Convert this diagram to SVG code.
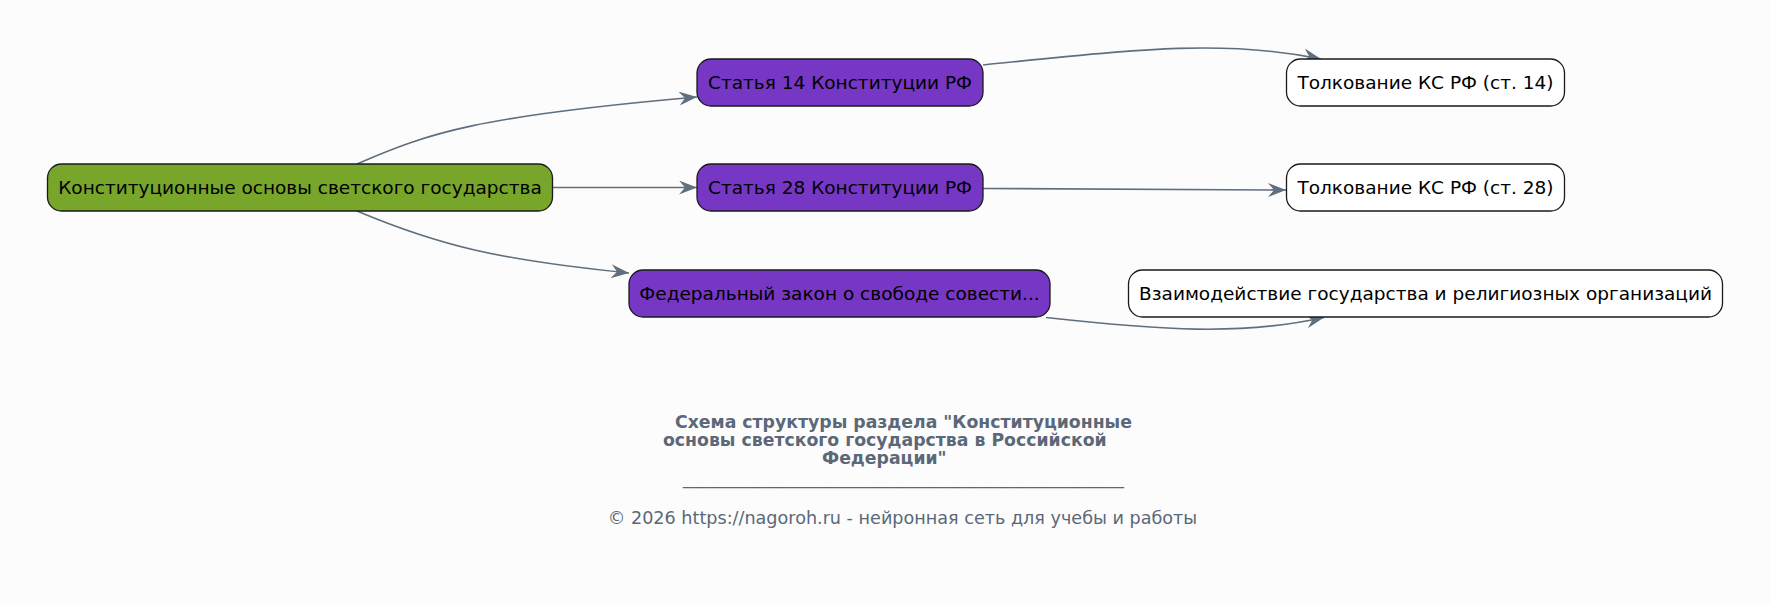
<svg xmlns="http://www.w3.org/2000/svg" width="1771" height="603" viewBox="0 0 1771 603">
<defs>
<style>
.node rect{stroke:#1a1a1a;stroke-width:1.3}
.root rect{fill:#77a62a}
.law rect{fill:#7637c4}
.leaf rect{fill:#ffffff}
.node text{font-family:"DejaVu Sans",sans-serif;font-size:18.5px;fill:#000;text-anchor:middle}
.edge{fill:none;stroke:#5f6f7e;stroke-width:1.6}
.title{font-family:"DejaVu Sans",sans-serif;font-size:17.3px;font-weight:bold;fill:#5a6878}
.foot{font-family:"DejaVu Sans",sans-serif;font-size:17.6px;fill:#5a6878}
</style>
<marker id="vee" markerWidth="20" markerHeight="14" refX="18" refY="7" orient="auto" markerUnits="userSpaceOnUse">
<path d="M0,0 L18,7 L0,14 L6,7 Z" fill="#5f6f7e"/>
</marker>
</defs>
<rect width="1771" height="603" fill="#fcfcfc"/>
<g id="connectors">
<path class="edge" d="M357,164 C430,132 480,116 697,97" marker-end="url(#vee)"/>
<path class="edge" d="M552,187.5 L697,187.5" marker-end="url(#vee)"/>
<path class="edge" d="M357,211 C440,246 500,260 629,273" marker-end="url(#vee)"/>
<path class="edge" d="M983,65 C1120,51 1220,38 1321,59" marker-end="url(#vee)"/>
<path class="edge" d="M983,188.5 C1100,190 1200,190 1286,190" marker-end="url(#vee)"/>
<path class="edge" d="M1046,317.5 C1160,330 1240,336 1324,317.5" marker-end="url(#vee)"/>
</g>
<g id="n-root" class="node root">
<rect x="47.5" y="164" width="505" height="47" rx="14"/>
<text x="300" y="194">Конституционные основы светского государства</text>
</g>
<g id="n-st14" class="node law">
<rect x="697" y="59" width="286" height="47" rx="14"/>
<text x="840" y="89">Статья 14 Конституции РФ</text>
</g>
<g id="n-st28" class="node law">
<rect x="697" y="164" width="286" height="47" rx="14"/>
<text x="840" y="194">Статья 28 Конституции РФ</text>
</g>
<g id="n-fz" class="node law">
<rect x="629" y="270" width="421" height="47" rx="14"/>
<text x="839.5" y="300">Федеральный закон о свободе совести...</text>
</g>
<g id="n-ks14" class="node leaf">
<rect x="1286.5" y="59" width="278" height="47" rx="14"/>
<text x="1425.5" y="89">Толкование КС РФ (ст. 14)</text>
</g>
<g id="n-ks28" class="node leaf">
<rect x="1286.5" y="164" width="278" height="47" rx="14"/>
<text x="1425.5" y="194">Толкование КС РФ (ст. 28)</text>
</g>
<g id="n-vz" class="node leaf">
<rect x="1128.5" y="270" width="594" height="47" rx="14"/>
<text x="1425.5" y="300">Взаимодействие государства и религиозных организаций</text>
</g>
<g id="caption">
<text class="title" x="675" y="428">Схема структуры раздела "Конституционные</text>
<text class="title" x="663" y="446">основы светского государства в Российской</text>
<text class="title" x="822" y="464">Федерации"</text>
<text class="title" x="683" y="484" textLength="441" lengthAdjust="spacingAndGlyphs" style="font-weight:normal;font-size:15px">_______________________________________________</text>
<text class="foot" x="902.5" y="524" text-anchor="middle">© 2026 https://nagoroh.ru - нейронная сеть для учебы и работы</text>
</g>
</svg>
